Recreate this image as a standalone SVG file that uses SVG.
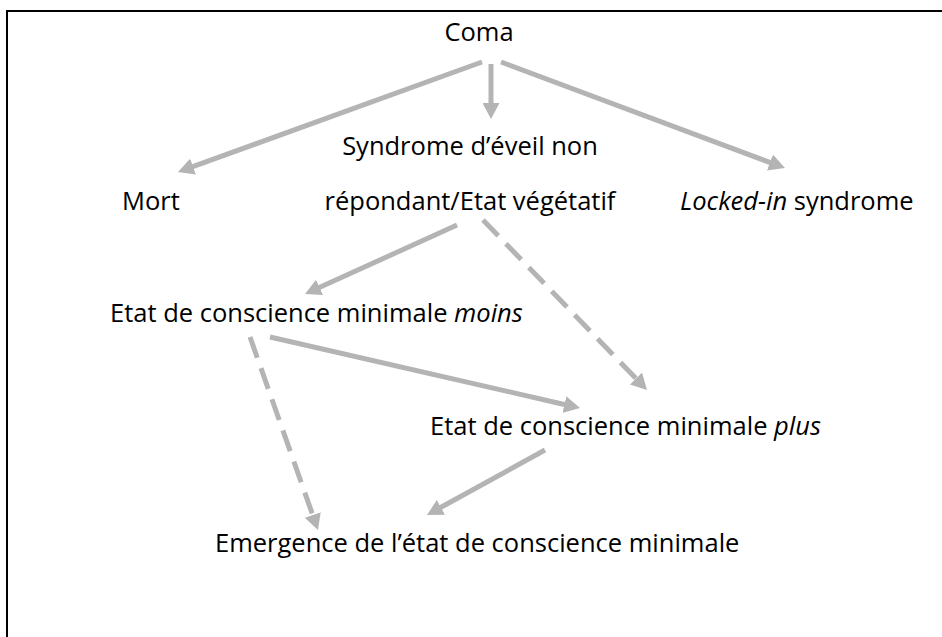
<svg xmlns="http://www.w3.org/2000/svg" width="942" height="637" viewBox="0 0 942 637">
<style>
.t{font-family:"Open Sans","Liberation Sans",sans-serif;font-size:25.5px;fill:#000;}
.m{text-anchor:middle;}
.i{font-style:italic;}
.c{stroke:#b4b4b4;stroke-width:5;fill:none;marker-end:url(#ah);}
.d{stroke-dasharray:22 11;}
</style>
<defs>
<marker id="ah" markerUnits="userSpaceOnUse" viewBox="0 0 16 17" markerWidth="16" markerHeight="17" refX="1" refY="8.5" orient="auto">
<path d="M0,0 L16,8.5 L0,17 z" fill="#b4b4b4"/>
</marker>
</defs>
<rect width="942" height="637" fill="#fff"/>
<path d="M7,637 V11 H942" fill="none" stroke="#000" stroke-width="2"/>
<g id="connectors">
<line class="c" x1="482" y1="62" x2="192.1" y2="166.9"/>
<line class="c" x1="491" y1="64" x2="491" y2="104"/>
<line class="c" x1="501" y1="62" x2="770.9" y2="162.8"/>
<line class="c" x1="457" y1="225" x2="318.7" y2="287.8"/>
<line class="c d" x1="483" y1="220" x2="636.6" y2="379.2"/>
<line class="c" x1="270" y1="337" x2="565.4" y2="404.7"/>
<line class="c d" x1="250" y1="337" x2="313" y2="515.9"/>
<line class="c" x1="545" y1="450" x2="440.1" y2="507.8"/>
</g>
<g id="coma"><text class="t m" x="479" y="41">Coma</text></g>
<g id="mort"><text class="t" x="122" y="210">Mort</text></g>
<g id="sevnr">
<text class="t m" x="470" y="155">Syndrome d’éveil non</text>
<text class="t m" x="470" y="210">répondant/Etat végétatif</text>
</g>
<g id="lis"><text class="t" x="680" y="210"><tspan class="i">Locked-in</tspan> syndrome</text></g>
<g id="ecmmoins"><text class="t" x="110" y="322">Etat de conscience minimale <tspan class="i">moins</tspan></text></g>
<g id="ecmplus"><text class="t" x="430" y="435">Etat de conscience minimale <tspan class="i">plus</tspan></text></g>
<g id="emcs"><text class="t" x="215" y="552">Emergence de l’état de conscience minimale</text></g>
</svg>
